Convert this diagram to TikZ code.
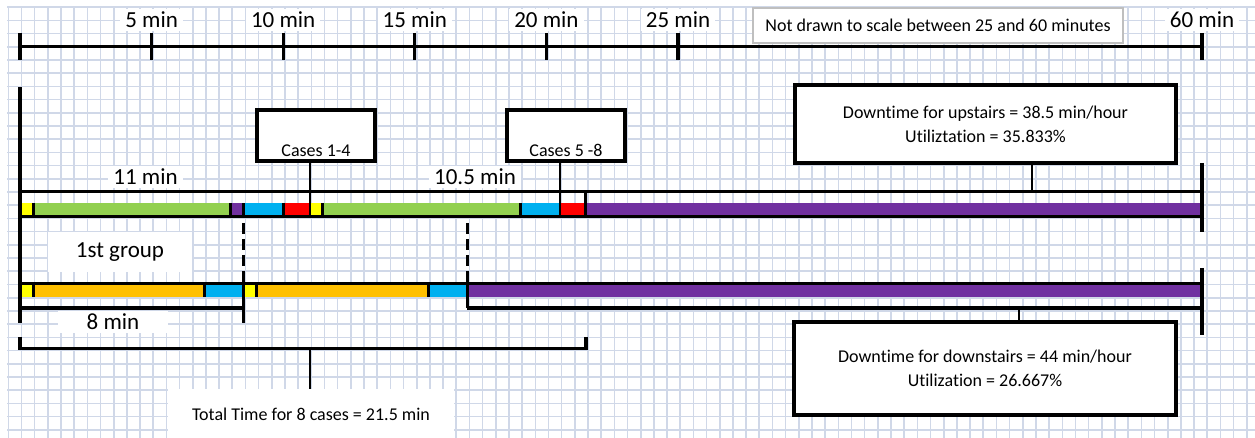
\documentclass[tikz,border=0pt]{standalone}
\usepackage{fontspec}
\setmainfont{Carlito}[Ligatures=NoCommon]
\usetikzlibrary{positioning,calc}
\definecolor{gridblue}{RGB}{208,216,232}
\definecolor{upgreen}{RGB}{146,208,80}
\definecolor{idlepurple}{RGB}{112,48,160}
\definecolor{cleanblue}{RGB}{0,176,240}
\definecolor{setupred}{RGB}{255,0,0}
\definecolor{prepyellow}{RGB}{255,255,0}
\definecolor{downorange}{RGB}{255,192,0}
\definecolor{notegray}{RGB}{191,191,191}
\tikzset{
  gridline/.style={gridblue,line width=1.6pt},
  thickline/.style={black,line width=3.3pt},
  sepline/.style={black,line width=3pt},
  connline/.style={black,line width=2pt},
  dashline/.style={black,line width=3pt,dash pattern=on 11pt off 5pt},
  bigtext/.style={font=\fontsize{23}{27}\selectfont,fill=white,inner xsep=5pt,inner ysep=3pt},
  smalltext/.style={font=\fontsize{18}{24}\selectfont},
  infobox/.style={smalltext,draw=black,line width=3.5pt,fill=white,align=center},
  casebox/.style={smalltext,draw=black,line width=3.5pt,fill=white,minimum width=118pt,
    inner sep=0pt,text height=46pt,text depth=5pt,anchor=south},
}

\begin{document}
\begin{tikzpicture}[x=1pt,y=-1pt]
\useasboundingbox (0,0) rectangle (1255,438);
\fill[white] (0,0) rectangle (1255,438);
\foreach \i in {0,...,94}
  \draw[gridline] ({8.3+13.175*\i},7) -- ({8.3+13.175*\i},438);
\foreach \j in {0,...,32}
  \draw[gridline] (7,{7.3+13.2*\j}) -- (1255,{7.3+13.2*\j});

\draw[thickline] (20,46.7) -- (1202,46.7);
\draw[thickline] (20,33) -- (20,60);
\foreach \x/\m in {151.6/5,283.2/10,414.8/15,546.4/20,678/25,1202/60}{
  \draw[thickline] (\x,33) -- (\x,60);
  \node[bigtext] (t\m) at (\x,20) {\m\ min};
}
\node[smalltext,draw=notegray,line width=2.7pt,fill=white,minimum width=370pt,minimum height=35pt] (notscale) at (938,25.5) {Not drawn to scale between 25 and 60 minutes};

\foreach \a/\b/\c in {20/33.2/prepyellow,33.2/230.6/upgreen,230.6/243.7/idlepurple,243.7/283.2/cleanblue,283.2/309.5/setupred,309.5/322.7/prepyellow,322.7/520.1/upgreen,520.1/559.6/cleanblue,559.6/585.9/setupred,585.9/1202/idlepurple}
  \fill[\c] (\a,203.3) rectangle (\b,215);
\foreach \x in {33.2,230.6,243.7,283.2,322.7,520.1}
  \draw[sepline] (\x,203.3) -- (\x,215);
\draw[sepline] (585.9,191.7) -- (585.9,215);

\foreach \a/\b/\c in {20/33.2/prepyellow,33.2/204.2/downorange,204.2/243.7/cleanblue,243.7/256.9/prepyellow,256.9/428/downorange,428/467.4/cleanblue,467.4/1202/idlepurple}
  \fill[\c] (\a,285) rectangle (\b,297);
\foreach \x in {33.2,204.2,256.9,428}
  \draw[sepline] (\x,285) -- (\x,297);

\draw[thickline] (20,87) -- (20,323);
\draw[thickline] (20,191.7) -- (1202,191.7);
\draw[thickline] (20,216.5) -- (1202,216.5);
\draw[thickline] (20,283.3) -- (1202,283.3);
\draw[thickline] (1202,163) -- (1202,232);
\draw[thickline] (1202,268) -- (1202,335);
\draw[dashline] (243.7,223) -- (243.7,283.3);
\draw[dashline] (467.4,223) -- (467.4,283.3);
\draw[thickline] (243.7,283.3) -- (243.7,323);
\draw[thickline] (467.4,283.3) -- (467.4,308);
\draw[thickline] (20,308) -- (243.7,308);
\draw[thickline] (467.4,308) -- (1202,308);
\draw[thickline] (20,337) -- (20,348.5) -- (585.9,348.5) -- (585.9,337);

\node[bigtext] (elevenmin) at (145.5,176.7) {11 min};
\node[bigtext] (tenhalfmin) at (475,176.7) {10.5 min};
\node[bigtext,minimum width=144pt,minimum height=40pt] (firstgroup) at (120,252) {1st group};
\node[bigtext,minimum width=110pt] (eightmin) at (113,322) {8 min};

\node[casebox] (cases14) at (316,163) {Cases 1-4};
\node[casebox] (cases58) at (566,163) {Cases 5 -8};
\node[infobox,minimum width=381pt,minimum height=78pt] (upbox) at (985.5,124)
  {Downtime for upstairs = 38.5 min/hour\\Utiliztation = 35.833\%};
\node[infobox,minimum width=382pt,minimum height=93pt] (downbox) at (985,368.3)
  {Downtime for downstairs = 44 min/hour\\Utilization = 26.667\%};
\node[smalltext,fill=white,minimum width=286pt,minimum height=50pt] (total) at (311,414)
  {Total Time for 8 cases = 21.5 min};

\coordinate (c14) at (309.5,215);
\coordinate (c58) at (559.6,215);
\coordinate (uconn) at (1032,191.7);
\coordinate (dconn) at (1019,308);
\coordinate (tb) at (310,348.5);
\draw[connline] (cases14.south -| c14) -- (c14);
\draw[connline] (cases58.south -| c58) -- (c58);
\draw[connline] (upbox.south -| uconn) -- (uconn);
\draw[connline] (dconn) -- (downbox.north -| dconn);
\draw[connline] (tb) -- (total.north -| tb);
\end{tikzpicture}
\end{document}
